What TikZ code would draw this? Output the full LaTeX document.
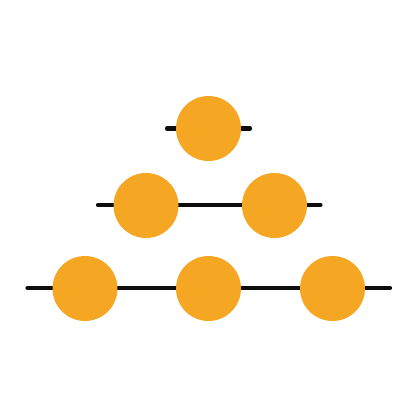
\documentclass[tikz,border=0pt]{standalone}
\definecolor{dotorange}{HTML}{F5A724}
\begin{document}
\begin{tikzpicture}[x=1pt,y=-1pt,
  bar/.style={line width=4.2pt,line cap=round,black!95},
  dot/.style={circle,fill=dotorange,minimum size=65pt,inner sep=0pt,draw=none}]
\useasboundingbox (0,0) rectangle (418,417);
\coordinate (t1) at (167,128.5);
\coordinate (t2) at (250,128.5);
\coordinate (m1) at (98,205);
\coordinate (m2) at (320.5,205);
\coordinate (b1) at (27.5,288);
\coordinate (b2) at (390,288);
\draw[bar] (t1) -- (t2);
\draw[bar] (m1) -- (m2);
\draw[bar] (b1) -- (b2);
\node[dot] (c1) at (208.5,128.5) {};
\node[dot] (c2) at (146,205.5) {};
\node[dot] (c3) at (274.5,205.5) {};
\node[dot] (c4) at (85,288.5) {};
\node[dot] (c5) at (208.5,288.5) {};
\node[dot] (c6) at (332.5,288.5) {};
\end{tikzpicture}
\end{document}
